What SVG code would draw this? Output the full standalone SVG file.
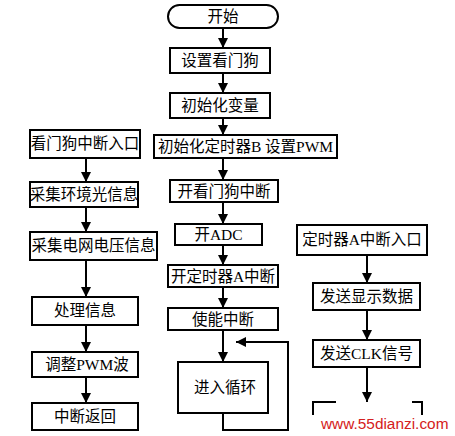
<svg xmlns="http://www.w3.org/2000/svg" width="455" height="436" viewBox="0 0 455 436">
<defs>
<style>
.b{fill:#fff;stroke:#000;stroke-width:2}
.t{font-family:"Liberation Serif","Noto Sans CJK SC",serif;font-size:15.5px;fill:#000;text-anchor:middle}
.c{fill:none;stroke:#000;stroke-width:2}
</style>
<marker id="ah" viewBox="0 0 10 10" refX="10" refY="5" markerWidth="5" markerHeight="5.5" orient="auto" markerUnits="strokeWidth">
<path d="M0,0 L10,5 L0,10 Z" fill="#000"/>
</marker>
</defs>
<rect width="455" height="436" fill="#fff"/>
<g id="connectors">
<path class="c" d="M223,28 V48" marker-end="url(#ah)"/>
<path class="c" d="M223,73 V93" marker-end="url(#ah)"/>
<path class="c" d="M223,118 V135" marker-end="url(#ah)"/>
<path class="c" d="M223,158 V180" marker-end="url(#ah)"/>
<path class="c" d="M223,202 V224" marker-end="url(#ah)"/>
<path class="c" d="M223,245 V265" marker-end="url(#ah)"/>
<path class="c" d="M223,287 V308" marker-end="url(#ah)"/>
<path class="c" d="M223,330 V362" marker-end="url(#ah)"/>
<path class="c" d="M223,413 V430 H288 V342 H236" marker-end="url(#ah)"/>
<path class="c" d="M86,158 V182" marker-end="url(#ah)"/>
<path class="c" d="M86,207 V232" marker-end="url(#ah)"/>
<path class="c" d="M86,260 V297" marker-end="url(#ah)"/>
<path class="c" d="M86,325 V352" marker-end="url(#ah)"/>
<path class="c" d="M86,377 V403" marker-end="url(#ah)"/>
<path class="c" d="M367,255 V283" marker-end="url(#ah)"/>
<path class="c" d="M367,310 V340" marker-end="url(#ah)"/>
<path class="c" d="M367,367 V402" marker-end="url(#ah)"/>
</g>
<g id="start"><rect class="b" x="168" y="5" width="110" height="23" rx="11.5"/><text class="t" x="223" y="22">开始</text></g>
<g id="wdt-setup"><rect class="b" x="170" y="48" width="100" height="25"/><text class="t" x="220" y="66">设置看门狗</text></g>
<g id="init-var"><rect class="b" x="170" y="93" width="100" height="25"/><text class="t" x="220" y="111">初始化变量</text></g>
<g id="init-timerb"><rect class="b" x="154" y="135" width="183" height="23"/><text class="t" x="245.5" y="152">初始化定时器B 设置PWM</text></g>
<g id="wdt-int"><rect class="b" x="170" y="180" width="108" height="22"/><text class="t" x="224" y="197">开看门狗中断</text></g>
<g id="adc"><rect class="b" x="175" y="224" width="87" height="21"/><text class="t" x="218.5" y="240">开ADC</text></g>
<g id="timera-int"><rect class="b" x="168" y="265" width="110" height="22"/><text class="t" x="223" y="282">开定时器A中断</text></g>
<g id="enable-int"><rect class="b" x="168" y="308" width="110" height="22"/><text class="t" x="223" y="325">使能中断</text></g>
<g id="loop"><rect class="b" x="178" y="362" width="90" height="51"/><text class="t" x="225" y="393">进入循环</text></g>
<g id="wdt-entry"><rect class="b" x="30" y="130" width="110" height="28"/><text class="t" x="85" y="149">看门狗中断入口</text></g>
<g id="light"><rect class="b" x="30" y="182" width="108" height="25"/><text class="t" x="84" y="200">采集环境光信息</text></g>
<g id="voltage"><rect class="b" x="30" y="232" width="127" height="28"/><text class="t" x="93.5" y="251">采集电网电压信息</text></g>
<g id="process"><rect class="b" x="32" y="297" width="106" height="28"/><text class="t" x="85" y="316">处理信息</text></g>
<g id="pwm"><rect class="b" x="32" y="352" width="106" height="25"/><text class="t" x="87" y="370">调整PWM波</text></g>
<g id="return"><rect class="b" x="32" y="403" width="106" height="27"/><text class="t" x="85" y="422">中断返回</text></g>
<g id="timera-entry"><rect class="b" x="297" y="225" width="130" height="30"/><text class="t" x="362" y="245">定时器A中断入口</text></g>
<g id="send-data"><rect class="b" x="313" y="283" width="107" height="27"/><text class="t" x="366.5" y="302">发送显示数据</text></g>
<g id="send-clk"><rect class="b" x="313" y="340" width="107" height="27"/><text class="t" x="366.5" y="359">发送CLK信号</text></g>
<g id="partial-box"><path class="c" d="M313,415 V402 H336"/><path class="c" d="M412,402 H422 V415"/></g>
<text x="321" y="429" font-family="Liberation Sans, Arial, sans-serif" font-size="15.4" fill="#d42020">www.55dianzi.com</text>
</svg>
